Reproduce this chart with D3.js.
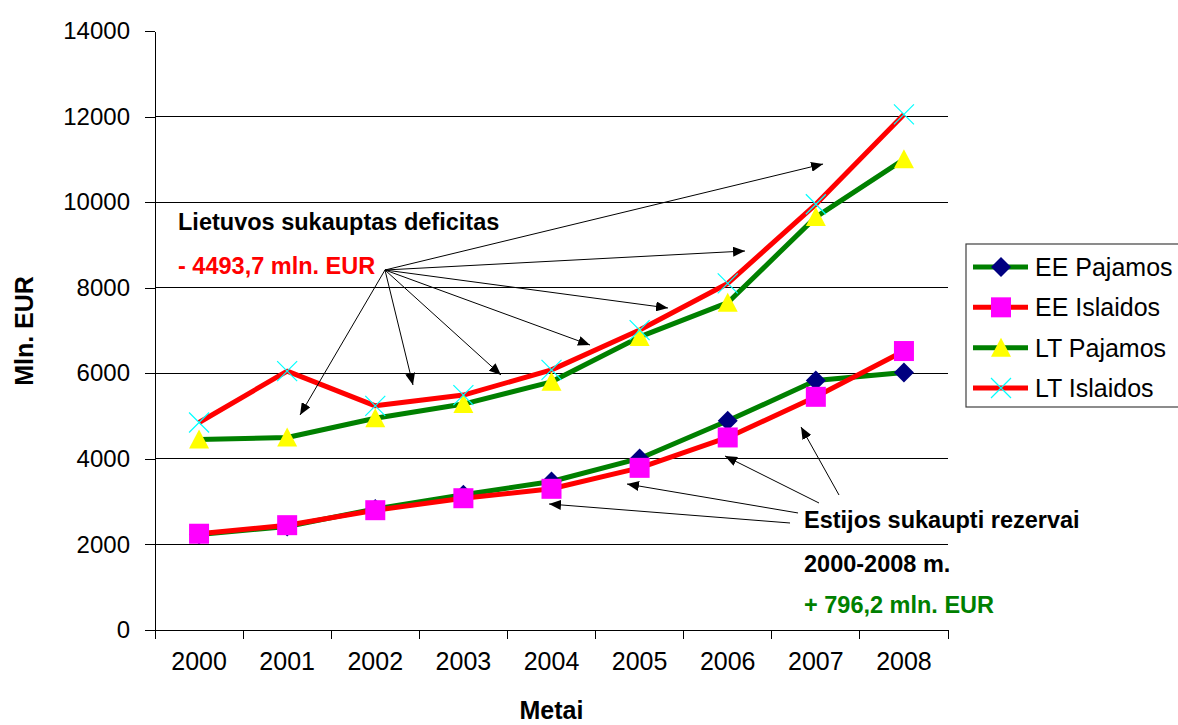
<!DOCTYPE html>
<html>
<head>
<meta charset="utf-8">
<script src="https://cdn.jsdelivr.net/npm/d3@7"></script>
<style>
  html, body { margin: 0; padding: 0; background: #fff; }
  svg { display: block; font-family: Arial, "Liberation Sans", sans-serif; }
</style>
</head>
<body>
<svg id="chart" width="1178" height="725"></svg>
<script>
// Budget revenue and expenditure, Estonia (EE) vs Lithuania (LT), mln. EUR
const years = ["2000", "2001", "2002", "2003", "2004", "2005", "2006", "2007", "2008"];
const eePajamos  = [2230, 2420, 2830, 3160, 3470, 4010, 4890, 5830, 6020];
const eeIslaidos = [2250, 2450, 2800, 3080, 3300, 3790, 4500, 5450, 6520];
const ltPajamos  = [4450, 4500, 4950, 5280, 5800, 6850, 7650, 9650, 11000];
const ltIslaidos = [4850, 6050, 5240, 5490, 6080, 7010, 8100, 9950, 12050];
const yTicks = [0, 2000, 4000, 6000, 8000, 10000, 12000, 14000];
const seriesNames = ["EE Pajamos", "EE Islaidos", "LT Pajamos", "LT Islaidos"];

const series = [
  { name: seriesNames[0], values: eePajamos,  line: "#008000", marker: "diamond" },
  { name: seriesNames[1], values: eeIslaidos, line: "#ff0000", marker: "square" },
  { name: seriesNames[2], values: ltPajamos,  line: "#008000", marker: "triangle" },
  { name: seriesNames[3], values: ltIslaidos, line: "#ff0000", marker: "cross" }
];

const svg = d3.select("#chart");
const plot = { left: 155, right: 948, top: 31, bottom: 630 };

const x = d3.scaleBand().domain(years).range([plot.left, plot.right]).paddingInner(0).paddingOuter(0);
const xc = d => x(d) + x.bandwidth() / 2;
// continuous helper along the category axis (units of category slots)
const slot = d3.scaleLinear().domain([0, years.length]).range([plot.left, plot.right]);
const y = d3.scaleLinear().domain([0, 14000]).range([plot.bottom, plot.top]);

// horizontal gridlines (no line on the top tick)
svg.append("g")
  .selectAll("line")
  .data(yTicks.filter(t => t > 0 && t < 14000))
  .join("line")
  .attr("x1", plot.left).attr("x2", plot.right)
  .attr("y1", d => y(d)).attr("y2", d => y(d))
  .attr("stroke", "#000").attr("stroke-width", 1).attr("shape-rendering", "crispEdges");

// y axis
const yAxis = svg.append("g")
  .attr("transform", `translate(${plot.left},0)`)
  .call(d3.axisLeft(y).tickValues(yTicks).tickFormat(d3.format("d"))
    .tickSize(10).tickPadding(15).tickSizeOuter(0));
yAxis.selectAll("path, line").attr("stroke", "#000").attr("shape-rendering", "crispEdges");
yAxis.selectAll("text").attr("font-size", 24).attr("fill", "#000").attr("font-family", "Arial, 'Liberation Sans', sans-serif");

// x axis: category labels centred in the bands, ticks on band boundaries
const xAxis = svg.append("g")
  .attr("transform", `translate(0,${plot.bottom})`)
  .call(d3.axisBottom(x).tickSize(0).tickPadding(22));
xAxis.select(".domain").remove();
xAxis.selectAll("text").attr("font-size", 25).attr("fill", "#000").attr("font-family", "Arial, 'Liberation Sans', sans-serif");

svg.append("line")
  .attr("x1", plot.left - 10).attr("x2", plot.right)
  .attr("y1", plot.bottom).attr("y2", plot.bottom)
  .attr("stroke", "#000").attr("shape-rendering", "crispEdges");
svg.append("g")
  .selectAll("line")
  .data(d3.range(years.length + 1))
  .join("line")
  .attr("x1", d => slot(d)).attr("x2", d => slot(d))
  .attr("y1", plot.bottom).attr("y2", plot.bottom + 9)
  .attr("stroke", "#000").attr("shape-rendering", "crispEdges");

// axis titles
svg.append("text")
  .attr("x", (plot.left + plot.right) / 2).attr("y", 719)
  .attr("text-anchor", "middle").attr("font-size", 25).attr("font-weight", "bold")
  .text("Metai");
svg.append("text")
  .attr("transform", `translate(33,${331}) rotate(-90)`)
  .attr("text-anchor", "middle").attr("font-size", 25).attr("font-weight", "bold")
  .text("Mln. EUR");

// marker drawing
function drawMarker(g, type) {
  if (type === "diamond") {
    g.append("path").attr("d", "M0,-10L10,0L0,10L-10,0Z").attr("fill", "#000080");
  } else if (type === "square") {
    g.append("rect").attr("x", -10).attr("y", -10).attr("width", 20).attr("height", 20).attr("fill", "#ff00ff");
  } else if (type === "triangle") {
    g.append("path").attr("d", "M0,-10L10,9L-10,9Z").attr("fill", "#ffff00");
  } else if (type === "cross") {
    g.append("path").attr("d", "M-10,-10L10,10M-10,10L10,-10")
      .attr("stroke", "#00ffff").attr("stroke-width", 1.2).attr("fill", "none");
  }
}

const line = d3.line().x((d, i) => xc(years[i])).y(d => y(d));

// Draw order: LT series first, EE series on top
const drawOrder = [2, 3, 0, 1];
drawOrder.forEach(k => {
  const s = series[k];
  svg.append("path")
    .datum(s.values)
    .attr("d", line)
    .attr("fill", "none")
    .attr("stroke", s.line)
    .attr("stroke-width", 5)
    .attr("stroke-linejoin", "round");
});
drawOrder.forEach(k => {
  const s = series[k];
  svg.append("g")
    .selectAll("g")
    .data(s.values)
    .join("g")
    .attr("transform", (d, i) => `translate(${xc(years[i])},${y(d)})`)
    .each(function () { drawMarker(d3.select(this), s.marker); });
});

// arrow marker
svg.append("defs").append("marker")
  .attr("id", "arrowhead")
  .attr("viewBox", "0 0 12 10")
  .attr("refX", 12).attr("refY", 5)
  .attr("markerWidth", 12).attr("markerHeight", 10)
  .attr("markerUnits", "userSpaceOnUse")
  .attr("orient", "auto")
  .append("path").attr("d", "M0,0L12,5L0,10Z").attr("fill", "#000");

// Lithuanian deficit note: arrows fan out from one point (slot, value)
const ltFrom = [2.61, 8414];
const ltTargets = [
  [1.646, 5025], [2.928, 5726], [3.927, 5960], [4.937, 6661],
  [5.822, 7526], [6.696, 8858], [7.582, 10891]
];
svg.append("g").selectAll("line")
  .data(ltTargets)
  .join("line")
  .attr("x1", slot(ltFrom[0])).attr("y1", y(ltFrom[1]))
  .attr("x2", d => slot(d[0])).attr("y2", d => y(d[1]))
  .attr("stroke", "#000").attr("stroke-width", 1)
  .attr("marker-end", "url(#arrowhead)");

svg.append("text")
  .attr("x", 178).attr("y", 230)
  .attr("font-size", 23.5).attr("font-weight", "bold").attr("fill", "#000")
  .text("Lietuvos sukauptas deficitas");
svg.append("text")
  .attr("x", 178).attr("y", 274)
  .attr("font-size", 23.5).attr("font-weight", "bold").attr("fill", "#ff0000")
  .text("- 4493,7 mln. EUR");

// Estonian reserves note
const eeArrows = [
  { from: [7.207, 2501], to: [4.472, 2945] },
  { from: [7.298, 2735], to: [5.357, 3412] },
  { from: [7.536, 2968], to: [6.469, 4067] },
  { from: [7.763, 3155], to: [7.332, 4745] }
];
svg.append("g").selectAll("line")
  .data(eeArrows)
  .join("line")
  .attr("x1", d => slot(d.from[0])).attr("y1", d => y(d.from[1]))
  .attr("x2", d => slot(d.to[0])).attr("y2", d => y(d.to[1]))
  .attr("stroke", "#000").attr("stroke-width", 1)
  .attr("marker-end", "url(#arrowhead)");

svg.append("text")
  .attr("x", 804).attr("y", 528)
  .attr("font-size", 23.5).attr("font-weight", "bold").attr("fill", "#000")
  .text("Estijos sukaupti rezervai");
svg.append("text")
  .attr("x", 804).attr("y", 572)
  .attr("font-size", 23.5).attr("font-weight", "bold").attr("fill", "#000")
  .text("2000-2008 m.");
svg.append("text")
  .attr("x", 804).attr("y", 613)
  .attr("font-size", 23.5).attr("font-weight", "bold").attr("fill", "#008000")
  .text("+ 796,2 mln. EUR");

// legend
const legend = svg.append("g");
legend.append("rect")
  .attr("x", 966).attr("y", 244).attr("width", 240).attr("height", 163)
  .attr("fill", "#fff").attr("stroke", "#404040").attr("stroke-width", 1.2);
const rowY = d3.scalePoint().domain(seriesNames).range([267, 388]);
series.forEach(s => {
  const g = legend.append("g").attr("transform", `translate(0,${rowY(s.name)})`);
  g.append("line").attr("x1", 973).attr("x2", 1028).attr("y1", 0).attr("y2", 0)
    .attr("stroke", s.line).attr("stroke-width", 5);
  drawMarker(g.append("g").attr("transform", "translate(1001,0)"), s.marker);
  g.append("text").attr("x", 1035).attr("y", 9)
    .attr("font-size", 25).attr("fill", "#000")
    .text(s.name);
});
</script>
</body>
</html>
